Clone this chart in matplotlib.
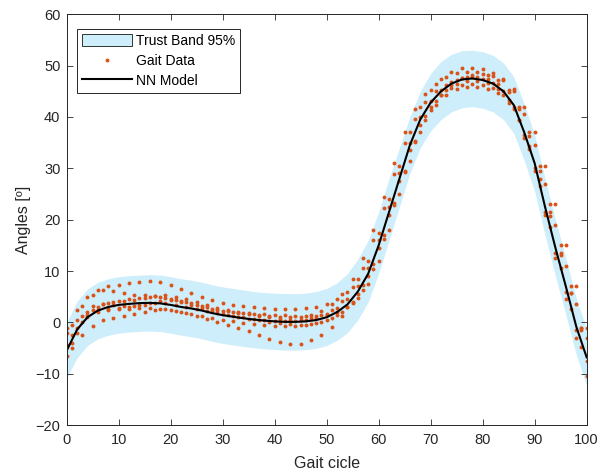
import matplotlib.pyplot as plt
from matplotlib.patches import Patch
from matplotlib.lines import Line2D
import numpy as np

plt.rcParams['font.family'] = ['Liberation Sans', 'DejaVu Sans']

# Gait cycle positions (%)
gait_x = list(range(0, 101, 2))
gait_x_odd = list(range(1, 100, 2))

# NN model curve
nn_model = [-5.5, -1.4, 1.0, 2.3, 3.0, 3.4, 3.6, 3.75, 3.8, 3.7, 3.4, 3.0, 2.7, 2.3, 1.8, 1.4,
            1.1, 0.8, 0.55, 0.35, 0.2, 0.1, 0.1, 0.2, 0.45, 1.0, 2.0, 3.5, 6.0, 9.5, 15.0,
            21.5, 28.0, 34.5, 39.5, 42.8, 45.0, 46.5, 47.3, 47.5, 47.2, 46.5, 45.0, 42.3,
            37.0, 31.0, 22.5, 14.5, 7.0, -0.8, -6.8]

# 95% trust band limits
band_upper = [0.0, 4.1, 6.5, 7.8, 8.5, 8.9, 9.1, 9.2, 9.3, 9.2, 8.9, 8.5, 8.2, 7.8, 7.3, 6.9,
              6.6, 6.3, 6.0, 5.8, 5.7, 5.6, 5.6, 5.7, 6.0, 6.6, 7.7, 9.5, 12.3, 16.0, 21.5,
              28.0, 34.0, 40.0, 45.0, 48.5, 50.8, 52.2, 52.9, 53.0, 52.7, 52.0, 50.5, 47.8,
              42.5, 36.5, 28.0, 20.0, 12.5, 4.7, -1.3]
band_lower = [-10.8, -6.9, -4.5, -3.2, -2.5, -2.1, -1.9, -1.75, -1.7, -1.8, -2.1, -2.5, -2.8,
              -3.2, -3.7, -4.1, -4.4, -4.7, -4.95, -5.15, -5.3, -5.4, -5.4, -5.3, -5.05, -4.5,
              -3.5, -2.0, 0.5, 4.0, 9.5, 16.0, 22.5, 29.0, 34.0, 37.3, 39.5, 41.0, 41.8, 42.0,
              41.7, 41.0, 39.5, 36.8, 31.5, 25.5, 17.0, 9.0, 1.5, -6.3, -12.3]

# Measured gait trials (even samples)
trial_1 = [-1.0, 2.5, 5.0, 6.3, 7.0, 7.3, 7.6, 7.9, 8.0, 7.8, 7.2, 6.5, 5.7, 5.0, 4.3, 3.8,
           3.4, 3.1, 2.9, 2.8, 2.7, 2.7, 2.7, 2.8, 3.0, 3.5, 4.5, 6.0, 8.5, 12.0, 17.5, 24.0,
           30.5, 37.0, 42.0, 45.3, 47.3, 48.7, 49.5, 49.6, 49.3, 48.6, 47.3, 45.0, 40.5, 34.5,
           27.0, 19.0, 11.0, 3.5, -3.0]
trial_3 = [-6.5, -2.0, 1.5, 3.0, 3.8, 4.2, 4.5, 4.8, 5.0, 4.9, 4.5, 4.0, 3.4, 2.8, 2.2, 1.7,
           1.3, 1.0, 0.7, 0.5, 0.3, 0.2, 0.3, 0.5, 0.9, 1.6, 2.8, 4.5, 7.0, 10.5, 16.0, 22.5,
           29.0, 35.0, 40.0, 43.2, 45.3, 46.8, 47.5, 47.7, 47.4, 46.6, 45.0, 42.0, 36.5, 30.0,
           21.5, 13.5, 6.0, -1.5, -7.5]
trial_5 = [-4.5, -1.0, 1.0, 2.0, 2.5, 2.6, 2.7, 2.8, 2.8, 2.7, 2.4, 2.0, 1.6, 1.2, 0.8, 0.5,
           0.2, -0.1, -0.3, -0.5, -0.7, -0.8, -0.8, -0.6, -0.2, 0.5, 1.5, 3.0, 5.5, 9.0, 14.5,
           21.0, 27.5, 33.5, 38.5, 42.0, 44.2, 45.6, 46.3, 46.5, 46.3, 45.6, 44.3, 41.5, 36.0,
           29.5, 21.0, 12.5, 4.5, -3.0, -10.5]
trial_7 = [-2.0, 0.5, 2.0, 2.5, 2.7, 2.8, 3.0, 3.4, 3.8, 4.2, 4.3, 4.1, 3.7, 3.2, 2.7, 2.3,
           2.0, 1.8, 1.7, 1.6, 1.5, 1.4, 1.3, 1.2, 1.2, 1.4, 2.0, 3.0, 4.8, 7.5, 12.0, 18.0,
           25.0, 31.5, 37.0, 41.3, 44.3, 46.3, 47.5, 48.2, 48.3, 48.0, 47.2, 45.5, 42.0, 37.0,
           30.5, 23.0, 15.0, 7.0, -1.0]

# Measured gait trials (odd samples)
trial_2 = [-0.5, 3.2, 5.4, 6.3, 6.2, 5.7, 5.4, 5.25, 5.1, 4.8, 4.4, 3.95, 3.45, 2.95, 2.5,
           2.15, 1.85, 1.55, 1.25, 0.95, 0.7, 0.55, 0.5, 0.8, 1.35, 2.4, 4.2, 6.8, 10.6, 16.0,
           22.3, 28.8, 34.9, 39.7, 42.9, 45.0, 46.3, 47.2, 47.7, 47.8, 47.4, 46.5, 44.8, 41.5,
           36.2, 29.4, 21.5, 13.5, 5.8, -1.0]
trial_4 = [-5.0, -2.4, -0.7, 0.45, 0.9, 1.15, 1.55, 2.05, 2.5, 2.55, 2.2, 1.75, 1.25, 0.7, 0.1,
           -0.5, -1.1, -1.7, -2.4, -3.2, -3.9, -4.3, -4.15, -3.5, -2.4, -0.9, 1.2, 4.0, 7.2,
           11.4, 17.0, 23.2, 29.5, 35.1, 39.4, 42.3, 44.3, 45.4, 45.9, 45.9, 45.5, 44.7, 42.8,
           39.4, 34.3, 28.0, 20.8, 13.2, 5.8, -1.5]
trial_6 = [-2.5, 1.2, 3.1, 3.55, 3.35, 3.1, 3.1, 3.4, 3.7, 3.7, 3.4, 3.0, 2.6, 2.2, 1.8, 1.4,
           1.05, 0.75, 0.45, 0.15, -0.15, -0.4, -0.5, -0.4, 0.0, 0.8, 2.0, 3.8, 6.4, 10.3, 16.2,
           22.8, 29.3, 35.4, 40.1, 43.2, 45.2, 46.5, 47.0, 47.1, 46.7, 45.5, 43.4, 39.5, 33.8,
           26.6, 18.5, 10.5, 2.7, -4.8]
trial_8 = [-4.0, 0.0, 2.5, 3.6, 4.0, 4.2, 4.4, 4.8, 5.2, 5.3, 5.0, 4.5, 3.9, 3.3, 2.8, 2.4,
           2.1, 1.8, 1.5, 1.3, 1.1, 1.0, 1.1, 1.5, 2.3, 3.6, 5.6, 8.5, 12.5, 18.0, 24.5, 31.0,
           37.0, 41.5, 44.5, 46.5, 47.8, 48.5, 48.8, 48.7, 48.2, 47.2, 45.3, 42.0, 37.0, 30.5,
           23.0, 15.0, 7.0, -1.0]

even_trials = [trial_1, trial_3, trial_5, trial_7]
odd_trials = [trial_2, trial_4, trial_6, trial_8]

band_color = '#CDEEFA'
dot_color = '#D95319'

fig = plt.figure(figsize=(5.98, 4.76), dpi=100)
ax = fig.add_axes([0.1115, 0.107, 0.8695, 0.863])

ax.fill_between(gait_x, band_lower, band_upper, color=band_color, linewidth=0)
for xs, group in [(gait_x, even_trials), (gait_x_odd, odd_trials)]:
    for tr in group:
        ax.plot(xs, tr, linestyle='none', marker='o', markersize=2.8,
                markerfacecolor=dot_color, markeredgewidth=0)
ax.plot(gait_x, nn_model, color='black', linewidth=1.5)

ax.set_xlim(0, 100)
ax.set_ylim(-20, 60)
ax.set_xticks(range(0, 101, 10))
ax.set_yticks(range(-20, 61, 10))
ax.tick_params(direction='in', top=True, right=True, length=4, width=0.6,
               labelsize=10.5, colors='#262626')
ax.tick_params(axis='x', pad=6)
ax.tick_params(axis='y', pad=4.5)
for sp in ax.spines.values():
    sp.set_color('#262626')
    sp.set_linewidth(0.7)
ax.set_xlabel('Gait cicle', fontsize=11.5, color='#262626', labelpad=6)
ax.set_ylabel('Angles [º]', fontsize=11.5, color='#262626', labelpad=3)

handles = [Patch(facecolor=band_color, edgecolor='#333333', linewidth=0.7),
           Line2D([], [], linestyle='none', marker='o', markersize=2.8,
                  markerfacecolor=dot_color, markeredgewidth=0),
           Line2D([], [], color='black', linewidth=1.5)]
leg = ax.legend(handles, ['Trust Band 95%', 'Gait Data', 'NN Model'], loc='upper left',
                bbox_to_anchor=(0.0204, 0.9635), fontsize=10, fancybox=False,
                edgecolor='#262626', framealpha=1, handlelength=3.6, handleheight=0.95,
                handletextpad=0.3, borderpad=0.35, labelspacing=0.42, borderaxespad=0)
leg.get_frame().set_linewidth(0.7)

fig.savefig('out.png', dpi=100)
